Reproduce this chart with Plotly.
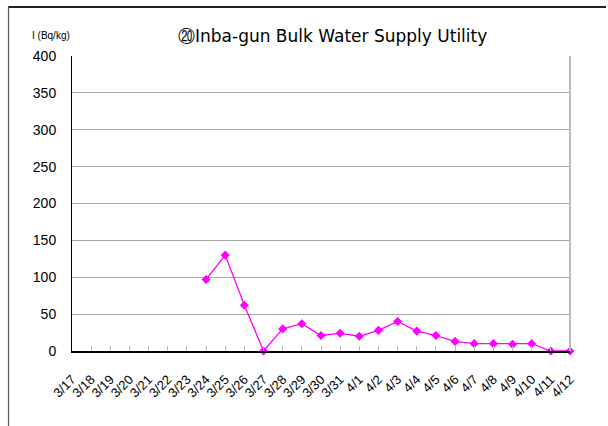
import plotly.graph_objects as go

dates = ["3/17","3/18","3/19","3/20","3/21","3/22","3/23","3/24","3/25","3/26","3/27",
         "3/28","3/29","3/30","3/31","4/1","4/2","4/3","4/4","4/5","4/6","4/7","4/8",
         "4/9","4/10","4/11","4/12"]
values = [None,None,None,None,None,None,None,97,130,62,0,30,37,21,24,20,28,40,27,21,13,
          10,10,9,10,0,0]
y_ticks = [0,50,100,150,200,250,300,350,400]

W, H = 608, 426
L, R, T, B = 72, 570, 56, 351
pw, ph = R - L, B - T

def px(x):
    return (x - L) / pw

def py(y):
    return (B - y) / ph

fig = go.Figure()
fig.add_trace(go.Scatter(
    x=dates, y=values, mode="lines+markers",
    line=dict(color="#FF00FF", width=1.3),
    marker=dict(symbol="diamond", size=7, color="#FF00FF"),
    connectgaps=False, showlegend=False, cliponaxis=False,
))

font = "Liberation Sans, Arial, sans-serif"
tfont = "DejaVu Sans, sans-serif"
fig.update_layout(
    width=W, height=H,
    margin=dict(l=L, r=W - R, t=T, b=H - B, autoexpand=False),
    paper_bgcolor="white", plot_bgcolor="white",
    font=dict(family=font, color="black"),
    xaxis=dict(
        type="category", range=[0, len(dates) - 1], automargin=False,
        showgrid=False, showline=True, linecolor="black", linewidth=1.5,
        ticks="inside", ticklen=5, tickcolor="#bbbbbb", tickwidth=1,
        tickangle=-45, tickfont=dict(size=13, family=font),
        ticklabelstandoff=14,
        zeroline=False,
    ),
    yaxis=dict(
        range=[0, 400], tickvals=y_ticks, automargin=False,
        showgrid=True, gridcolor="#a6a6a6", gridwidth=1,
        showline=True, linecolor="black", linewidth=1,
        ticks="", ticklen=0, tickfont=dict(size=14, family=font),
        ticklabelstandoff=12,
        zeroline=False,
    ),
    shapes=[
        dict(type="line", xref="paper", yref="paper", x0=1, x1=1, y0=0, y1=1,
             line=dict(color="#bbbbbb", width=2)),
        dict(type="rect", xref="paper", yref="paper", x0=px(8), x1=px(606),
             y0=py(8), y1=py(6), line=dict(width=0), fillcolor="#222222",
             layer="above"),
        dict(type="line", xref="paper", yref="paper", x0=px(8.5), x1=px(8.5),
             y0=py(6), y1=py(440), line=dict(color="#555555", width=1.2)),
    ],
    annotations=[
        dict(text="⑳Inba-gun Bulk Water Supply Utility", xref="paper", yref="paper",
             x=px(332), y=py(36), showarrow=False,
             font=dict(size=17, family=tfont), xanchor="center", yanchor="middle"),
        dict(text="I (Bq/kg)", xref="paper", yref="paper",
             x=px(30), y=py(36), showarrow=False,
             font=dict(size=10, family=font), xanchor="left", yanchor="middle"),
    ],
)

fig.write_html("out.html", config={"displayModeBar": False},
               post_script="document.body.style.margin='0';")
